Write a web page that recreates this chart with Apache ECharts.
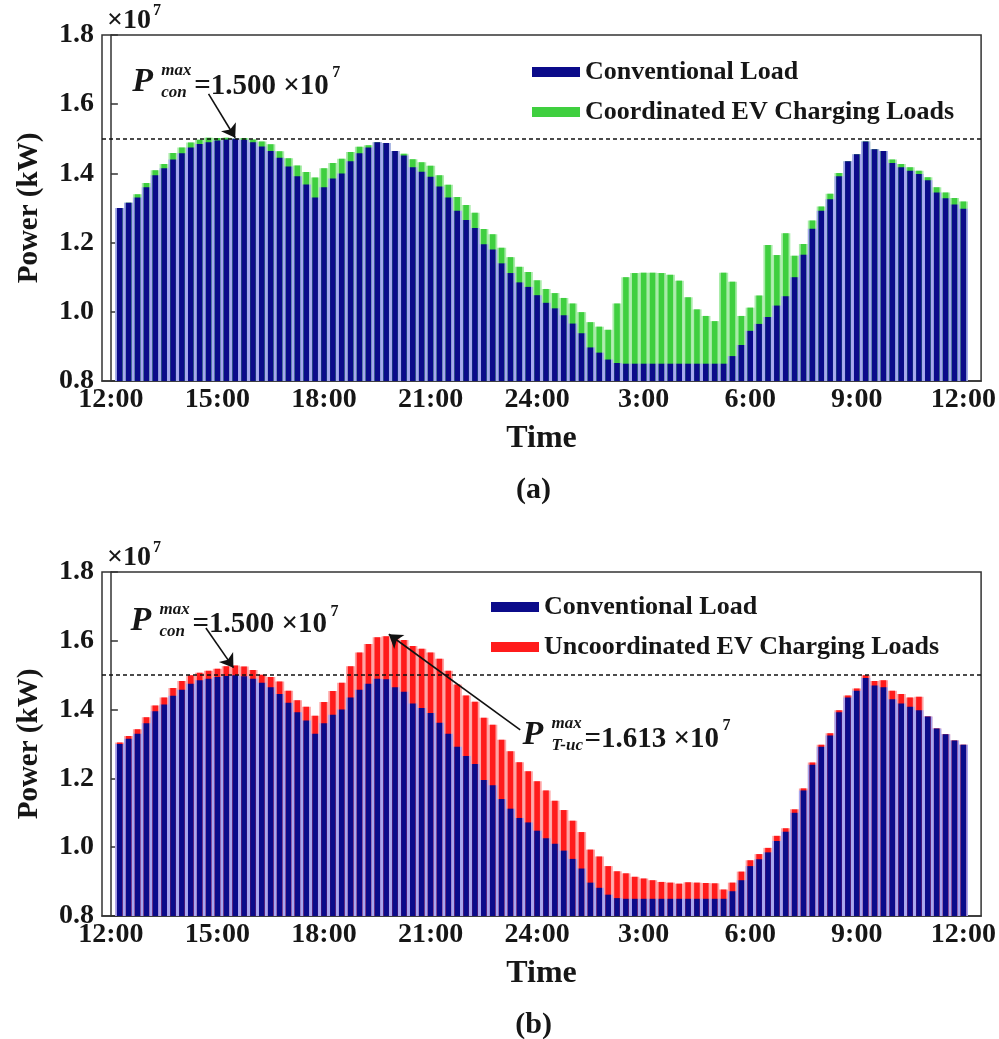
<!DOCTYPE html>
<html>
<head>
<meta charset="utf-8">
<title>Conventional load with EV charging loads</title>
<script src="https://cdn.jsdelivr.net/npm/echarts@6/dist/echarts.min.js"></script>
<style>
  html, body { margin: 0; padding: 0; background: #fff; }
  #chart { width: 999px; height: 1039px; }
</style>
</head>
<body>
<div id="chart"></div>
<script>
// 96 quarter-hour slots, 12:00 -> 12:00 next day. Power in units of 10^7 kW.
var tickSlots = [0, 12, 24, 36, 48, 60, 72, 84, 96];
var tickLabels = ['12:00', '15:00', '18:00', '21:00', '24:00', '3:00', '6:00', '9:00', '12:00'];

var conventionalLoad = [
  1.300, 1.315, 1.330, 1.360, 1.395, 1.415, 1.440, 1.458, 1.475, 1.485,
  1.490, 1.495, 1.498, 1.500, 1.497, 1.490, 1.478, 1.465, 1.445, 1.420,
  1.392, 1.368, 1.330, 1.360, 1.385, 1.400, 1.435, 1.458, 1.475, 1.490,
  1.488, 1.465, 1.452, 1.418, 1.405, 1.390, 1.362, 1.330, 1.292, 1.265,
  1.242, 1.195, 1.180, 1.140, 1.112, 1.085, 1.072, 1.048, 1.026, 1.010,
  0.990, 0.966, 0.938, 0.897, 0.882, 0.862, 0.852, 0.850, 0.850, 0.850,
  0.850, 0.850, 0.850, 0.850, 0.850, 0.850, 0.850, 0.850, 0.850, 0.872,
  0.904, 0.945, 0.965, 0.985, 1.018, 1.045, 1.100, 1.165, 1.240, 1.292,
  1.325, 1.392, 1.435, 1.455, 1.492, 1.470, 1.465, 1.430, 1.418, 1.408,
  1.398, 1.380, 1.345, 1.328, 1.310, 1.298
];

var coordinatedEV = [
  0.000, 0.000, 0.010, 0.012, 0.014, 0.012, 0.019, 0.017, 0.014, 0.012,
  0.013, 0.007, 0.005, 0.000, 0.005, 0.008, 0.014, 0.019, 0.019, 0.024,
  0.031, 0.036, 0.058, 0.055, 0.045, 0.042, 0.027, 0.019, 0.006, 0.000,
  0.000, 0.000, 0.005, 0.023, 0.027, 0.032, 0.033, 0.037, 0.040, 0.044,
  0.044, 0.044, 0.044, 0.045, 0.046, 0.045, 0.043, 0.043, 0.040, 0.044,
  0.050, 0.058, 0.061, 0.073, 0.075, 0.086, 0.172, 0.250, 0.262, 0.263,
  0.263, 0.262, 0.257, 0.240, 0.192, 0.157, 0.138, 0.123, 0.263, 0.215,
  0.084, 0.067, 0.082, 0.208, 0.146, 0.182, 0.062, 0.031, 0.024, 0.012,
  0.016, 0.009, 0.000, 0.000, 0.000, 0.000, 0.000, 0.010, 0.009, 0.010,
  0.010, 0.009, 0.015, 0.017, 0.019, 0.021
];

var uncoordinatedEV = [
  0.004, 0.008, 0.013, 0.018, 0.017, 0.020, 0.023, 0.025, 0.025, 0.022,
  0.023, 0.024, 0.028, 0.028, 0.028, 0.025, 0.023, 0.030, 0.037, 0.035,
  0.035, 0.040, 0.052, 0.062, 0.069, 0.078, 0.091, 0.108, 0.116, 0.120,
  0.125, 0.145, 0.150, 0.167, 0.172, 0.176, 0.186, 0.183, 0.181, 0.176,
  0.181, 0.181, 0.176, 0.172, 0.167, 0.162, 0.149, 0.144, 0.139, 0.125,
  0.118, 0.111, 0.106, 0.096, 0.091, 0.083, 0.078, 0.074, 0.064, 0.059,
  0.054, 0.049, 0.047, 0.044, 0.048, 0.047, 0.046, 0.045, 0.027, 0.025,
  0.025, 0.017, 0.015, 0.013, 0.015, 0.010, 0.010, 0.006, 0.006, 0.006,
  0.006, 0.006, 0.006, 0.006, 0.008, 0.013, 0.020, 0.025, 0.027, 0.027,
  0.039, 0.000, 0.000, 0.000, 0.000, 0.000
];

var conMax = 1.500;   // P_con^max
var ucMax = 1.613;    // P_T-uc^max

var FONT = '"Liberation Serif", "Times New Roman", serif';
var INK = '#161616';

var panels = [
  { top: 35, height: 346, ev: coordinatedEV, evName: 'Coordinated EV Charging Loads',
    evColor: '#3fcf3f', evGap: '#a9eca9', legendLeft: 527, legendTop: 54, tag: '(a)',
    arrows: [
      [[11.0, 1.630], [14.0, 1.503]]
    ] },
  { top: 572, height: 344, ev: uncoordinatedEV, evName: 'Uncoordinated EV Charging Loads',
    evColor: '#ff1b1b', evGap: '#ffa3a3', legendLeft: 486, legendTop: 589, tag: '(b)',
    arrows: [
      [[10.7, 1.637], [13.8, 1.522]],
      [[46.1, 1.341], [31.3, 1.619]]
    ] }
];

// [slot, value] pairs for a value-type x axis
function pairs(arr) {
  return arr.map(function (v, i) { return [i + 1, v]; });
}
// conventional + EV on top of it
function totals(ev) {
  return conventionalLoad.map(function (v, i) { return v + ev[i]; });
}

var chart = echarts.init(document.getElementById('chart'));

var grids = [], xAxes = [], yAxes = [], legends = [], series = [];

panels.forEach(function (p, k) {
  grids.push({ left: 102, right: 17, top: p.top, height: p.height, show: true,
    borderColor: '#333', borderWidth: 1.5 });

  // visible axis for the bars, hidden twin for the light gap strips behind them
  xAxes.push({
    type: 'value', gridIndex: k, min: -1, max: 98,
    name: 'Time', nameLocation: 'middle', nameGap: 42,
    nameTextStyle: { fontFamily: FONT, fontWeight: 'bold', fontSize: 32, color: INK },
    axisLine: { lineStyle: { color: '#333', width: 1.5 } },
    axisTick: { show: false },
    splitLine: { show: false },
    axisLabel: {
      customValues: tickSlots, margin: 5,
      fontFamily: FONT, fontWeight: 'bold', fontSize: 28, color: INK,
      formatter: function (v) { return tickLabels[tickSlots.indexOf(v)]; }
    }
  });
  xAxes.push({ type: 'value', gridIndex: k, min: -1, max: 98, show: false });

  yAxes.push({
    type: 'value', gridIndex: k, min: 0.8, max: 1.8, interval: 0.2,
    name: 'Power (kW)', nameLocation: 'middle', nameGap: 58, nameRotate: 90,
    nameTextStyle: { fontFamily: FONT, fontWeight: 'bold', fontSize: 29, color: INK },
    axisLine: { show: true, lineStyle: { color: '#333', width: 1.5 } },
    axisTick: { inside: true, length: 7, lineStyle: { color: '#333', width: 1.5 } },
    splitLine: { show: false },
    axisLabel: {
      margin: 8, fontFamily: FONT, fontWeight: 'bold', fontSize: 28, color: INK,
      formatter: function (v) { return v.toFixed(1); }
    }
  });

  legends.push({
    data: ['Conventional Load', p.evName],
    orient: 'vertical', left: p.legendLeft, top: p.legendTop,
    icon: 'rect', itemWidth: 48, itemHeight: 10, itemGap: 14,
    textStyle: { fontFamily: FONT, fontWeight: 'bold', fontSize: 26, color: INK },
    selectedMode: false
  });

  var fx = k * 2, bx = k * 2 + 1;
  var tot = totals(p.ev);

  // light strips between bars
  series.push({
    type: 'bar', name: 'gapTotal' + k, xAxisIndex: bx, yAxisIndex: k,
    barWidth: 9.2, barGap: '-100%', itemStyle: { color: p.evGap }, silent: true,
    data: pairs(tot)
  });
  series.push({
    type: 'bar', name: 'gapCon' + k, xAxisIndex: bx, yAxisIndex: k,
    barWidth: 9.2, barGap: '-100%', itemStyle: { color: '#a6a6f0' }, silent: true,
    data: pairs(conventionalLoad)
  });

  // EV load shown as the part of the total above the conventional bar;
  // it also carries the dashed P_con^max line
  series.push({
    type: 'bar', name: p.evName, xAxisIndex: fx, yAxisIndex: k,
    barWidth: 5.6, barGap: '-100%', itemStyle: { color: p.evColor },
    data: pairs(tot),
    markLine: {
      silent: true, symbol: ['none', 'none'], label: { show: false },
      lineStyle: { color: '#111', type: [4, 3], width: 1.5 },
      data: [{ yAxis: conMax }]
    }
  });

  var arrows = p.arrows.map(function (a) {
    return [{ coord: a[0] }, { coord: a[1] }];
  });

  series.push({
    type: 'bar', name: 'Conventional Load', xAxisIndex: fx, yAxisIndex: k,
    barWidth: 5.6, barGap: '-100%', itemStyle: { color: '#0b0b8a' },
    data: pairs(conventionalLoad),
    markLine: {
      silent: true, symbol: ['none', 'arrow'], symbolSize: 13,
      label: { show: false },
      lineStyle: { color: '#111', type: 'solid', width: 1.6 },
      data: arrows
    }
  });
});

chart.setOption({
  animation: false,
  backgroundColor: '#fff',
  grid: grids, xAxis: xAxes, yAxis: yAxes, legend: legends, series: series
});

// text annotations, anchored to data coordinates
function toPx(k, x, y) {
  return chart.convertToPixel({ xAxisIndex: k * 2, yAxisIndex: k }, [x, y]);
}

function powerTag(pt, sup, sub, value) {
  return {
    type: 'group', x: pt[0], y: pt[1], silent: true,
    children: [
      { type: 'text', x: 0, y: 0, style: { text: 'P', font: 'italic bold 34px ' + FONT, fill: INK, verticalAlign: 'middle' } },
      { type: 'text', x: 29, y: -11, style: { text: sup, font: 'italic bold 17px ' + FONT, fill: INK, verticalAlign: 'middle' } },
      { type: 'text', x: 29, y: 11, style: { text: sub, font: 'italic bold 17px ' + FONT, fill: INK, verticalAlign: 'middle' } },
      { type: 'text', x: 62, y: 4, style: { text: '=' + value.toFixed(3) + ' \u00d710', font: 'bold 29px ' + FONT, fill: INK, verticalAlign: 'middle' } },
      { type: 'text', x: 200, y: -9, style: { text: '7', font: 'bold 16px ' + FONT, fill: INK, verticalAlign: 'middle' } }
    ]
  };
}

function multiplier(pt) {
  return {
    type: 'group', x: pt[0] + 5, y: pt[1] - 14, silent: true,
    children: [
      { type: 'text', x: 0, y: 0, style: { text: '\u00d710', font: 'bold 28px ' + FONT, fill: INK, verticalAlign: 'middle' } },
      { type: 'text', x: 46, y: -10, style: { text: '7', font: 'bold 16px ' + FONT, fill: INK, verticalAlign: 'middle' } }
    ]
  };
}

function panelTag(pt, text) {
  return {
    type: 'text', x: pt[0], y: pt[1] + 109, silent: true,
    style: { text: text, font: 'bold 30px ' + FONT, fill: INK, align: 'center', verticalAlign: 'middle' }
  };
}

var graphics = [];
panels.forEach(function (p, k) {
  graphics.push(multiplier(toPx(k, -1, 1.8)));
  graphics.push(panelTag(toPx(k, 47.6, 0.8), p.tag));
});
graphics.push(powerTag(toPx(0, 2.4, 1.664), 'max', 'con', conMax));
graphics.push(powerTag(toPx(1, 2.2, 1.658), 'max', 'con', conMax));
graphics.push(powerTag(toPx(1, 46.35, 1.326), 'max', 'T-uc', ucMax));

chart.setOption({ graphic: graphics });
</script>
</body>
</html>
